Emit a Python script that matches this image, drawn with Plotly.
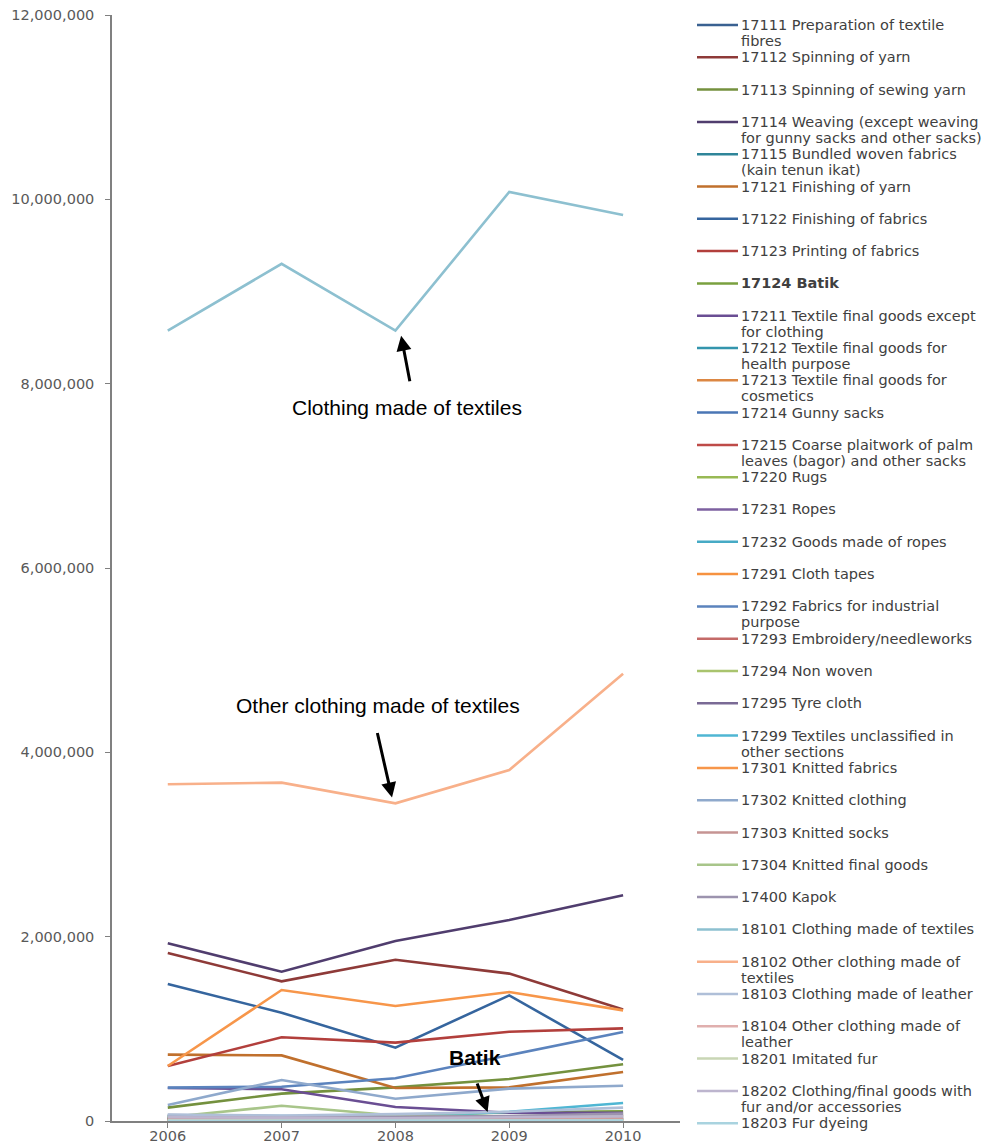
import plotly.graph_objects as go

# Years on the category axis
years = ["2006", "2007", "2008", "2009", "2010"]

# KBLI codes and descriptions ("\n" marks where the legend text wraps)
codes = [
    "17111", "17112", "17113", "17114", "17115", "17121", "17122", "17123", "17124",
    "17211", "17212", "17213", "17214", "17215", "17220", "17231", "17232", "17291",
    "17292", "17293", "17294", "17295", "17299", "17301", "17302", "17303", "17304",
    "17400", "18101", "18102", "18103", "18104", "18201", "18202", "18203",
]
labels = [
    "Preparation of textile\nfibres",
    "Spinning of yarn",
    "Spinning of sewing yarn",
    "Weaving (except weaving\nfor gunny sacks and other sacks)",
    "Bundled woven fabrics\n(kain tenun ikat)",
    "Finishing of yarn",
    "Finishing of fabrics",
    "Printing of fabrics",
    "Batik",
    "Textile final goods except\nfor clothing",
    "Textile final goods for\nhealth purpose",
    "Textile final goods for\ncosmetics",
    "Gunny sacks",
    "Coarse plaitwork of palm\nleaves (bagor) and other sacks",
    "Rugs",
    "Ropes",
    "Goods made of ropes",
    "Cloth tapes",
    "Fabrics for industrial\npurpose",
    "Embroidery/needleworks",
    "Non woven",
    "Tyre cloth",
    "Textiles unclassified in\nother sections",
    "Knitted fabrics",
    "Knitted clothing",
    "Knitted socks",
    "Knitted final goods",
    "Kapok",
    "Clothing made of textiles",
    "Other clothing made of\ntextiles",
    "Clothing made of leather",
    "Other clothing made of\nleather",
    "Imitated fur",
    "Clothing/final goods with\nfur and/or accessories",
    "Fur dyeing",
]

# Values per code, 2006-2010
values = [
    [45000, 30000, 25000, 20000, 30000],          # 17111
    [1823000, 1515000, 1750000, 1599000, 1210000],  # 17112
    [145000, 297000, 365000, 456000, 615000],     # 17113
    [1928000, 1620000, 1953000, 2180000, 2449000],  # 17114
    [20000, 15000, 10000, 15000, 20000],          # 17115
    [720000, 712000, 358000, 365000, 532000],     # 17121
    [1486000, 1175000, 796000, 1363000, 662000],  # 17122
    [597000, 908000, 850000, 969000, 1005000],    # 17123
    [30000, 35000, 55000, 95000, 105000],         # 17124
    [358000, 344000, 152000, 90000, 88000],       # 17211
    [15000, 12000, 10000, 12000, 15000],          # 17212
    [5000, 5000, 4000, 6000, 8000],               # 17213
    [60000, 45000, 30000, 35000, 50000],          # 17214
    [25000, 20000, 15000, 18000, 22000],          # 17215
    [10000, 12000, 8000, 10000, 15000],           # 17220
    [30000, 25000, 20000, 22000, 35000],          # 17231
    [8000, 9000, 7000, 8000, 10000],              # 17232
    [12000, 10000, 9000, 11000, 14000],           # 17291
    [362000, 372000, 463000, 712000, 966000],     # 17292
    [35000, 30000, 40000, 45000, 60000],          # 17293
    [50000, 40000, 35000, 40000, 55000],          # 17294
    [20000, 18000, 15000, 25000, 70000],          # 17295
    [50000, 55000, 40000, 100000, 195000],        # 17299
    [597000, 1421000, 1248000, 1400000, 1200000],  # 17301
    [174000, 445000, 242000, 351000, 383000],     # 17302
    [30000, 25000, 20000, 25000, 40000],          # 17303
    [40000, 165000, 60000, 50000, 70000],         # 17304
    [65000, 50000, 45000, 55000, 80000],          # 17400
    [8575000, 9300000, 8575000, 10080000, 9830000],  # 18101
    [3653000, 3671000, 3447000, 3808000, 4853000],   # 18102
    [70000, 60000, 75000, 100000, 145000],        # 18103
    [10000, 8000, 6000, 9000, 12000],             # 18104
    [5000, 6000, 4000, 5000, 6000],               # 18201
    [40000, 35000, 30000, 40000, 50000],          # 18202
    [3000, 3000, 2000, 3000, 4000],               # 18203
]

colors = [
    "#3A6191", "#8E3A38", "#74913E", "#503D6E", "#2F8599", "#C0702D",
    "#35659E", "#B23F3C", "#7AA03F", "#6A4E93", "#3395AD", "#DC8743",
    "#4A76B5", "#BE4B48", "#98B954", "#7D60A0", "#46AAC5", "#F69240",
    "#5B83BD", "#C46A68", "#A9C46E", "#7A6A95", "#4FB6D3", "#F7964A",
    "#8FA9CC", "#C69493", "#A8C58A", "#9C93AE", "#8DC0D0", "#F8B08A",
    "#AFBFD8", "#E0AFAE", "#C9D6B5", "#BDB5CE", "#A9D3DF",
]

bold_codes = ["17124"]

W, H = 990, 1146
L, R, T, B = 112, 310, 15, 25
plot_w = W - L - R
plot_h = H - T - B


def px_x(x):
    return (x - L) / plot_w


def px_y(y):
    return (H - B - y) / plot_h


fig = go.Figure()
for code, label, vals, col in zip(codes, labels, values, colors):
    fig.add_trace(go.Scatter(
        x=years, y=vals, mode="lines",
        name=code + " " + label.replace("\n", " "),
        line=dict(color=col, width=2.6),
    ))

# Hand-laid legend on the right: swatch + wrapped text lines
legend_font = dict(family="DejaVu Sans", size=14.5, color="#404040")
shapes = []
annotations = []
row0, row_step, line_step = 25, 32.3, 16
for i, (code, label, col) in enumerate(zip(codes, labels, colors)):
    yc = row0 + i * row_step
    shapes.append(dict(type="line", xref="paper", yref="paper",
                       x0=px_x(697), x1=px_x(738), y0=px_y(yc), y1=px_y(yc),
                       line=dict(color=col, width=2.5)))
    lines = (code + " " + label).split("\n")
    for k, txt in enumerate(lines):
        if code in bold_codes:
            txt = "<b>" + txt + "</b>"
        annotations.append(dict(
            xref="paper", yref="paper", x=px_x(739), y=px_y(yc + k * line_step),
            text=txt, showarrow=False, xanchor="left", yanchor="middle",
            font=legend_font,
        ))

# Callouts
note_font = dict(family="Liberation Sans, Arial", size=21, color="black")
annotations += [
    dict(x=2.1, y=7740000, text="Clothing made of textiles", showarrow=False,
         font=note_font),
    dict(x=2.05, y=8520000, ax=9, ay=47, text="", showarrow=True,
         arrowhead=2, arrowsize=1, arrowwidth=3, arrowcolor="black"),
    dict(x=1.845, y=4510000, text="Other clothing made of textiles",
         showarrow=False, font=note_font),
    dict(x=1.97, y=3510000, ax=-15, ay=-66, text="", showarrow=True,
         arrowhead=2, arrowsize=1, arrowwidth=3, arrowcolor="black"),
    dict(x=2.70, y=694000, text="<b>Batik</b>", showarrow=False,
         font=note_font),
    dict(x=2.81, y=98000, ax=-11, ay=-30, text="", showarrow=True,
         arrowhead=2, arrowsize=1, arrowwidth=3, arrowcolor="black"),
]

tick_font = dict(family="DejaVu Sans", size=14.5, color="#595959")
fig.update_layout(
    width=W, height=H,
    margin=dict(l=L, r=R, t=T, b=B),
    plot_bgcolor="white", paper_bgcolor="white",
    showlegend=False,
    shapes=shapes,
    annotations=annotations,
    xaxis=dict(
        type="category", range=[-0.49, 4.5],
        showline=True, linecolor="#808080", linewidth=1.5,
        ticks="outside", ticklen=5, tickcolor="#808080",
        ticklabelstandoff=-4, automargin=False,
        showgrid=False, tickfont=tick_font,
    ),
    yaxis=dict(
        range=[0, 12000000], tickvals=[0, 2000000, 4000000, 6000000, 8000000,
                                       10000000, 12000000],
        tickformat=",", showline=True, linecolor="#808080", linewidth=1.5,
        ticks="outside", ticklen=5, tickcolor="#808080",
        ticklabelstandoff=8, automargin=False,
        showgrid=False, zeroline=False, tickfont=tick_font,
    ),
)

fig.write_html("out.html")
